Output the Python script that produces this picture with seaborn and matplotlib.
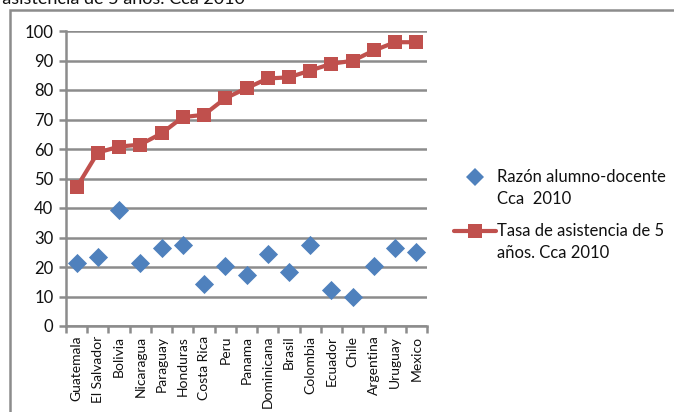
import numpy as np
import pandas as pd
import matplotlib
matplotlib.use("Agg")
import matplotlib.pyplot as plt
from matplotlib.lines import Line2D
from matplotlib.patches import Rectangle
import seaborn as sns

countries = ["Guatemala", "El Salvador", "Bolivia", "Nicaragua", "Paraguay",
             "Honduras", "Costa Rica", "Peru", "Panama", "Dominicana", "Brasil",
             "Colombia", "Ecuador", "Chile", "Argentina", "Uruguay", "Mexico"]
razon_alumno_docente = [21.5, 23.4, 39.3, 21.4, 26.3, 27.3, 14.2, 20.2, 17.2,
                        24.4, 18.3, 27.3, 12.2, 10.0, 20.2, 26.3, 25.2]
tasa_asistencia_5 = [47.0, 58.8, 60.8, 61.5, 65.3, 70.8, 71.6, 77.2, 80.6,
                     83.9, 84.3, 86.6, 88.9, 89.9, 93.4, 96.2, 96.2]
y_ticks = list(range(0, 101, 10))

label_razon = ["Razón alumno-docente", "Cca  2010"]
label_tasa = ["Tasa de asistencia de 5", "años. Cca 2010"]
title_text = "Tasa de asistencia de 5 años. Cca 2010"

blue = "#4F81BD"
red = "#C0504D"
grid_gray = "#8C8C8C"
text_color = "#111111"

sns.set_theme(style="white")
plt.rcParams["font.family"] = ["Lato", "DejaVu Sans"]

W, H = 674, 412

df = pd.DataFrame({
    "pos": np.arange(len(countries)),
    "pais": countries,
    "razon": razon_alumno_docente,
    "tasa": tasa_asistencia_5,
})

fig = plt.figure(figsize=(W / 100, H / 100), dpi=100)
ax = fig.add_axes([66 / W, 1 - 326 / H, (427 - 66) / W, (326 - 31) / H])

# horizontal gridlines
ax.set_axisbelow(True)
ax.yaxis.grid(True, color=grid_gray, linewidth=1.8)
ax.xaxis.grid(False)

sns.lineplot(data=df, x="pos", y="tasa", ax=ax, color=red, linewidth=3.0,
             marker="s", markersize=10, markeredgewidth=0, zorder=3)
sns.scatterplot(data=df, x="pos", y="razon", ax=ax, color=blue, marker="D",
                s=95, linewidth=0, zorder=4)

ax.set_xlim(-0.5, len(countries) - 0.5)
ax.set_ylim(0, 100)
ax.set_yticks(y_ticks)
ax.set_yticklabels([str(v) for v in y_ticks], fontsize=12, color=text_color)
ax.set_xticks(df["pos"])
ax.set_xticklabels(countries, rotation=90, fontsize=10, color=text_color)
ax.set_xticks(np.arange(-0.5, len(countries)), minor=True)
ax.tick_params(axis="x", which="major", length=0, pad=7)
ax.tick_params(axis="x", which="minor", length=5, width=1.8, color=grid_gray,
               direction="out", bottom=True)
ax.tick_params(axis="y", which="major", length=5, width=1.8, color=grid_gray,
               direction="out", left=True, pad=4)
ax.set_xlabel("")
ax.set_ylabel("")

for side in ("top", "right"):
    ax.spines[side].set_visible(False)
for side in ("left", "bottom"):
    ax.spines[side].set_color(grid_gray)
    ax.spines[side].set_linewidth(1.8)


def fx(px):
    return px / W


def fy(py):
    return 1 - py / H


# legend entries: key aligned with the first text line
fig.add_artist(Line2D([fx(475)], [fy(177)], transform=fig.transFigure,
                      linestyle="none", marker="D", markersize=9,
                      markerfacecolor=blue, markeredgewidth=0))
fig.add_artist(Line2D([fx(454), fx(496)], [fy(231), fy(231)],
                      transform=fig.transFigure, color=red, linewidth=3.0))
fig.add_artist(Line2D([fx(475)], [fy(231)], transform=fig.transFigure,
                      linestyle="none", marker="s", markersize=10,
                      markerfacecolor=red, markeredgewidth=0))
for lines, y0 in ((label_razon, 177), (label_tasa, 231)):
    for i, line in enumerate(lines):
        fig.text(fx(497), fy(y0 + i * 22), line, ha="left", va="center",
                 fontsize=12, color=text_color)

# outer chart frame
fig.add_artist(Rectangle((10 / W, -0.1), 1.2, (1 - 10 / H) + 0.1,
                         transform=fig.transFigure, fill=False,
                         edgecolor=grid_gray, linewidth=1.8))

# title line above the frame
fig.text(fx(245), fy(4), title_text, ha="right", va="baseline",
         fontsize=13, color=text_color)

fig.savefig("out.png", dpi=100)
